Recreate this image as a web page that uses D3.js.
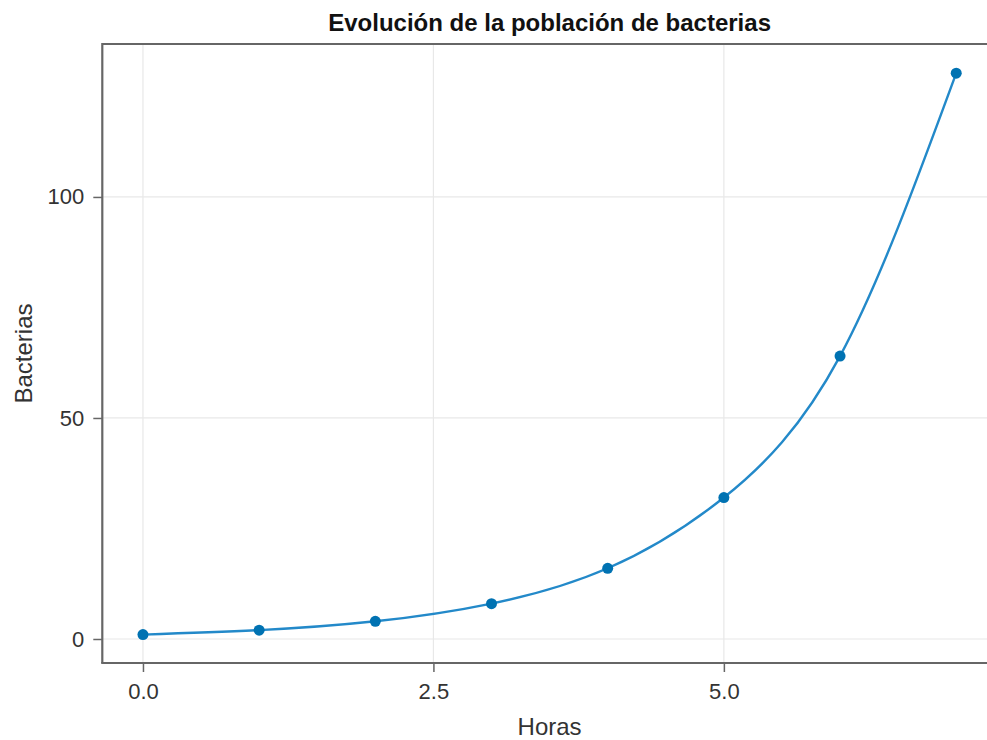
<!DOCTYPE html>
<html><head><meta charset="utf-8">
<script src="https://cdn.jsdelivr.net/npm/d3@7"></script>
<style>body{margin:0;background:#fff}svg{display:block;font-family:"Liberation Sans",Arial,sans-serif}</style>
</head><body><svg id="c" width="987" height="740"></svg>
<script>
const horas = [0, 1, 2, 3, 4, 5, 6, 7];
const bacterias = [1, 2, 4, 8, 16, 32, 64, 128];
const xTicks = [0, 2.5, 5];
const yTicks = [0, 50, 100];
const title = "Evolución de la población de bacterias";
const xLabel = "Horas";
const yLabel = "Bacterias";

const svg = d3.select("#c");
const x = d3.scaleLinear().domain([-0.35, 7.35]).range([102.3, 996.9]);
const y = d3.scaleLinear().domain([-5.43, 134.6]).range([663, 44]);
const L = x.range()[0], R = x.range()[1], T = y.range()[1], B = y.range()[0];

// grid
svg.append("g").selectAll("line").data(xTicks).join("line")
  .attr("x1", d => x(d)).attr("x2", d => x(d)).attr("y1", T).attr("y2", B)
  .attr("stroke", "#e8e8e8").attr("stroke-width", 1.2);
svg.append("g").selectAll("line").data(yTicks).join("line")
  .attr("y1", d => y(d)).attr("y2", d => y(d)).attr("x1", L).attr("x2", R)
  .attr("stroke", "#e8e8e8").attr("stroke-width", 1.2);

// line
const line = d3.line().x((d, i) => x(horas[i])).y(d => y(d)).curve(d3.curveNatural);
svg.append("path").datum(bacterias).attr("d", line)
  .attr("fill", "none").attr("stroke", "#2389c9").attr("stroke-width", 2.4);

// points
svg.append("g").selectAll("circle").data(bacterias).join("circle")
  .attr("cx", (d, i) => x(horas[i])).attr("cy", d => y(d)).attr("r", 5.5)
  .attr("fill", "#0072b2");

// axes
const xAxis = svg.append("g").attr("transform", `translate(0,${B})`)
  .call(d3.axisBottom(x).tickValues(xTicks).tickFormat(d3.format(".1f")).tickSize(9).tickPadding(6));
const yAxis = svg.append("g").attr("transform", `translate(${L},0)`)
  .call(d3.axisLeft(y).tickValues(yTicks).tickFormat(d3.format("d")).tickSize(9).tickPadding(9));
[xAxis, yAxis].forEach(a => {
  a.select(".domain").remove();
  a.selectAll(".tick line").attr("stroke", "#666").attr("stroke-width", 1.5);
  a.selectAll(".tick text").attr("fill", "#333").attr("font-size", 22)
    .attr("font-family", "'Liberation Sans', Arial, sans-serif");
});
xAxis.selectAll(".tick text").attr("dy", null).attr("y", 36);

// spines
svg.append("path").attr("d", `M${L},${B}V${T}H${R}`).attr("fill", "none")
  .attr("stroke", "#666").attr("stroke-width", 2.2);
svg.append("line").attr("x1", L - 1.1).attr("x2", R).attr("y1", B).attr("y2", B)
  .attr("stroke", "#666").attr("stroke-width", 2.2);

// labels
svg.append("text").attr("x", (L + R) / 2).attr("y", 31).attr("text-anchor", "middle")
  .attr("font-weight", "bold").attr("font-size", 24).attr("fill", "#111").text(title);
svg.append("text").attr("x", (L + R) / 2).attr("y", 735).attr("text-anchor", "middle")
  .attr("font-size", 24).attr("fill", "#333").text(xLabel);
svg.append("text").attr("transform", `translate(32,${(T + B) / 2}) rotate(-90)`)
  .attr("text-anchor", "middle").attr("font-size", 24).attr("fill", "#333").text(yLabel);
</script></body></html>
